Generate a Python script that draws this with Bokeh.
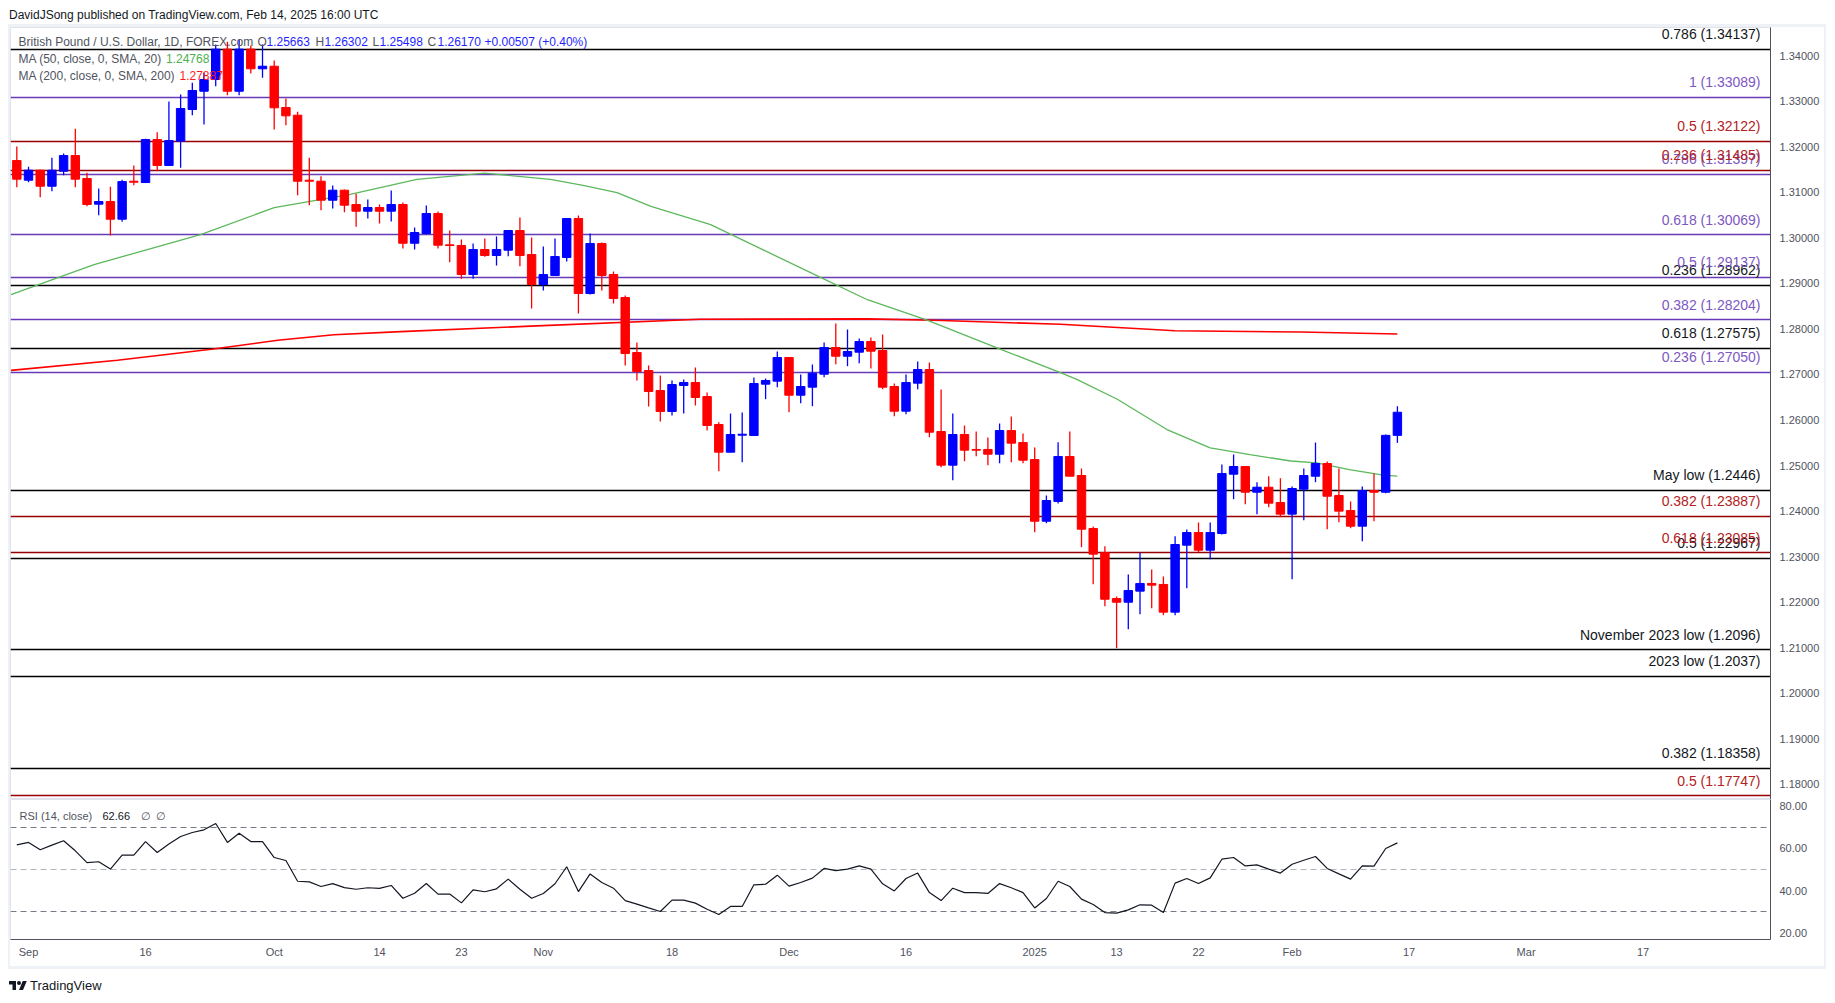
import numpy as np
from bokeh.plotting import figure
from bokeh.models import Range1d, FixedTicker, Label, Div, ColumnDataSource, NumeralTickFormatter
from bokeh.layouts import column
from bokeh.embed import file_html
from bokeh.resources import INLINE
from bokeh.core.properties import value

# ---------------- data ----------------
bar_index = list(range(-1, 118))   # trading-day index, 0 = 2 Sep 2024, 117 = 14 Feb 2025

opens = [1.31695, 1.31263, 1.31483, 1.31131, 1.31460, 1.31805, 1.31300, 1.30737, 1.30795, 1.30407,
         1.31241, 1.31212, 1.32156, 1.31586, 1.32119, 1.32815, 1.33216, 1.33473, 1.34140, 1.33216,
         1.34140, 1.33708, 1.33765, 1.32859, 1.32690, 1.31263, 1.31241, 1.30824, 1.31044, 1.30730,
         1.30583, 1.30664, 1.30583, 1.30730, 1.29880, 1.30093, 1.30532, 1.29844, 1.29830, 1.29193,
         1.29742, 1.29610, 1.29727, 1.30159, 1.29632, 1.28974, 1.29171, 1.29566, 1.30422, 1.28776,
         1.29874, 1.29193, 1.28688, 1.27481, 1.27086, 1.26647, 1.26186, 1.26757, 1.26823, 1.26515,
         1.25901, 1.25293, 1.25666, 1.25659, 1.26786, 1.26852, 1.27371, 1.26544, 1.26720, 1.27005,
         1.27591, 1.27400, 1.27488, 1.27723, 1.27525, 1.26735, 1.26193, 1.26808, 1.27108, 1.25747,
         1.25008, 1.25681, 1.25353, 1.25353, 1.25249, 1.25769, 1.25506, 1.25132, 1.23778, 1.24211,
         1.25198, 1.24781, 1.23618, 1.23085, 1.22081, 1.22000, 1.22243, 1.22412, 1.22390, 1.21782,
         1.23252, 1.23530, 1.23142, 1.23508, 1.24810, 1.24979, 1.24415, 1.24525, 1.24189, 1.23933,
         1.24481, 1.24766, 1.25045, 1.24343, 1.24014, 1.23669, 1.24452, 1.24415, 1.25663]
highs = [1.32003, 1.31557, 1.31490, 1.31755, 1.31849, 1.32391, 1.31425, 1.31081, 1.31118, 1.31272,
         1.31586, 1.32172, 1.32317, 1.32990, 1.33144, 1.33401, 1.33620, 1.34240, 1.34300, 1.34350,
         1.34220, 1.34240, 1.33890, 1.33056, 1.32764, 1.31755, 1.31351, 1.31147, 1.31059, 1.30964,
         1.30839, 1.30730, 1.31037, 1.30774, 1.30225, 1.30708, 1.30576, 1.30159, 1.29961, 1.29874,
         1.29983, 1.30027, 1.30159, 1.30444, 1.30005, 1.29808, 1.29983, 1.30422, 1.30488, 1.30093,
         1.29896, 1.29259, 1.28732, 1.27701, 1.27196, 1.26976, 1.26867, 1.26889, 1.27152, 1.26603,
         1.25952, 1.26142, 1.26164, 1.26932, 1.26910, 1.27503, 1.27371, 1.26998, 1.27218, 1.27701,
         1.28118, 1.27986, 1.27788, 1.27810, 1.27876, 1.26801, 1.26998, 1.27284, 1.27262, 1.26669,
         1.26142, 1.25879, 1.25747, 1.25616, 1.25923, 1.26076, 1.25703, 1.25396, 1.24343, 1.25512,
         1.25747, 1.24935, 1.23662, 1.23230, 1.22125, 1.22610, 1.23085, 1.22720, 1.22566, 1.23450,
         1.23596, 1.23750, 1.23750, 1.25022, 1.25243, 1.24979, 1.24634, 1.24766, 1.24722, 1.24540,
         1.24935, 1.25505, 1.25089, 1.24935, 1.24211, 1.24540, 1.24825, 1.25682, 1.26302]
lows = [1.31109, 1.31219, 1.30890, 1.31022, 1.31373, 1.31109, 1.30692, 1.30495, 1.30049, 1.30349,
        1.31153, 1.31212, 1.31460, 1.31586, 1.31535, 1.32690, 1.32486, 1.33326, 1.33129, 1.33129,
        1.33605, 1.33511, 1.32376, 1.32471, 1.30934, 1.30715, 1.30605, 1.30642, 1.30561, 1.30240,
        1.30422, 1.30313, 1.30356, 1.29764, 1.29742, 1.30071, 1.29764, 1.29463, 1.29098, 1.29098,
        1.29581, 1.29391, 1.29596, 1.29376, 1.28447, 1.28842, 1.29171, 1.29478, 1.28337, 1.28754,
        1.28842, 1.28557, 1.27196, 1.26867, 1.26296, 1.25967, 1.26098, 1.26142, 1.26318, 1.25770,
        1.24876, 1.25293, 1.25073, 1.25659, 1.26457, 1.26720, 1.26171, 1.26369, 1.26303, 1.26940,
        1.27225, 1.27181, 1.27247, 1.27130, 1.26676, 1.26083, 1.26127, 1.26676, 1.25622, 1.24964,
        1.24679, 1.25095, 1.25205, 1.25008, 1.25051, 1.25073, 1.25051, 1.23537, 1.23734, 1.24167,
        1.24766, 1.23208, 1.22396, 1.21913, 1.20991, 1.21408, 1.21738, 1.21869, 1.21716, 1.21716,
        1.22308, 1.23099, 1.22946, 1.23486, 1.24262, 1.24152, 1.23933, 1.24087, 1.23867, 1.22506,
        1.23801, 1.24635, 1.23603, 1.23757, 1.23625, 1.23340, 1.23779, 1.24393, 1.25498]
closes = [1.31286, 1.31483, 1.31131, 1.31483, 1.31805, 1.31286, 1.30730, 1.30795, 1.30407, 1.31234,
          1.31219, 1.32156, 1.31586, 1.32134, 1.32837, 1.33232, 1.33473, 1.34140, 1.33216, 1.34140,
          1.33708, 1.33765, 1.32852, 1.32676, 1.31241, 1.31241, 1.30824, 1.31044, 1.30715, 1.30583,
          1.30664, 1.30583, 1.30730, 1.29880, 1.30115, 1.30532, 1.29837, 1.29830, 1.29193, 1.29742,
          1.29610, 1.29742, 1.30159, 1.29610, 1.28974, 1.29193, 1.29588, 1.30422, 1.28776, 1.29874,
          1.29171, 1.28666, 1.27459, 1.27064, 1.26625, 1.26186, 1.26779, 1.26823, 1.26494, 1.25879,
          1.25293, 1.25681, 1.25688, 1.26801, 1.26867, 1.27371, 1.26544, 1.26735, 1.27027, 1.27591,
          1.27400, 1.27503, 1.27723, 1.27510, 1.26720, 1.26193, 1.26823, 1.27108, 1.25732, 1.25008,
          1.25681, 1.25337, 1.25337, 1.25249, 1.25769, 1.25491, 1.25117, 1.23778, 1.24233, 1.25198,
          1.24766, 1.23603, 1.23055, 1.22066, 1.22000, 1.22258, 1.22412, 1.22375, 1.21782, 1.23267,
          1.23530, 1.23142, 1.23530, 1.24825, 1.24979, 1.24415, 1.24525, 1.24174, 1.23933, 1.24496,
          1.24781, 1.25045, 1.24327, 1.23999, 1.23669, 1.24452, 1.24415, 1.25663, 1.26170]

ma50_index = [-1.5, 5.6, 14.7, 21, 27.5, 33.2, 39, 44.6, 47.4, 50.3, 53.2, 56, 58.3, 67.6, 71.7,
              76.8, 83.1, 88.2, 89.6, 93.1, 97.3, 101, 104.4, 107.9, 110.1, 112.9, 115.8, 117]
ma50_values = [1.2875, 1.2941, 1.3007, 1.3066, 1.3095, 1.3128, 1.3142, 1.3128, 1.3115, 1.3099,
               1.3069, 1.3047, 1.3029, 1.2914, 1.2864, 1.2819, 1.2755, 1.2704, 1.2689, 1.2645,
               1.2579, 1.2539, 1.2524, 1.2510, 1.2506, 1.2491, 1.2479, 1.24768]
ma200_index = [-1.5, 7.6, 15.8, 21.3, 26.1, 31.8, 42.9, 57.4, 71.7, 77.4, 88.2, 98, 108.7, 117]
ma200_values = [1.2709, 1.2731, 1.2756, 1.2775, 1.2787, 1.2794, 1.2806, 1.2821, 1.2822, 1.2819,
                1.2810, 1.2796, 1.2793, 1.27887]

rsi_values = [61.7, 62.9, 59.4, 61.6, 63.7, 58.9, 53.3, 53.7, 50.2, 56.8, 56.8, 63.3, 58.1, 62.1, 65.7,
              67.6, 68.9, 71.9, 62.9, 67.3, 63.3, 63.3, 55.7, 54.3, 44.4, 44.1, 41.9, 43.3, 41.4, 40.6,
              41.3, 41.0, 42.4, 36.3, 38.7, 43.3, 38.3, 38.3, 34.1, 40.3, 39.4, 40.8, 45.4, 40.6, 36.3,
              38.6, 43.2, 51.3, 39.5, 47.9, 43.8, 41.1, 35.2, 33.5, 31.7, 30.0, 35.4, 35.4, 34.0, 31.1,
              28.6, 32.4, 32.4, 42.7, 43.0, 47.3, 42.1, 43.8, 45.9, 50.5, 49.5, 50.2, 51.7, 50.2, 43.2,
              39.8, 45.7, 48.3, 39.0, 35.2, 41.1, 39.0, 39.0, 38.6, 43.3, 41.3, 39.0, 31.7, 36.2, 44.4,
              41.9, 35.9, 33.3, 29.5, 29.2, 30.8, 33.2, 33.0, 29.5, 43.5, 45.7, 43.3, 46.0, 54.9, 55.7,
              51.7, 52.2, 50.2, 48.3, 52.5, 54.4, 56.2, 50.5, 47.9, 45.4, 51.7, 51.6, 60.0, 62.66]

black_levels = [1.34137, 1.28962, 1.27575, 1.22967, 1.18358]
black_labels = ["0.786 (1.34137)", "0.236 (1.28962)", "0.618 (1.27575)", "0.5 (1.22967)", "0.382 (1.18358)"]
purple_levels = [1.33089, 1.31397, 1.30069, 1.29137, 1.28204, 1.27050]
purple_labels = ["1 (1.33089)", "0.786 (1.31397)", "0.618 (1.30069)", "0.5 (1.29137)",
                 "0.382 (1.28204)", "0.236 (1.27050)"]
red_levels = [1.32122, 1.31485, 1.23887, 1.23085, 1.17747]
red_labels = ["0.5 (1.32122)", "0.236 (1.31485)", "0.382 (1.23887)", "0.618 (1.23085)", "0.5 (1.17747)"]
key_levels = [1.2446, 1.2096, 1.2037]
key_labels = ["May low (1.2446)", "November 2023 low (1.2096)", "2023 low (1.2037)"]

price_ticks = [1.18, 1.19, 1.20, 1.21, 1.22, 1.23, 1.24, 1.25, 1.26, 1.27, 1.28, 1.29, 1.30,
               1.31, 1.32, 1.33, 1.34]
rsi_ticks = [20, 40, 60, 80]
rsi_levels_outer = [70, 30]
rsi_levels_mid = [50]
date_tick_pos = [0, 10, 21, 30, 37, 44, 55, 65, 75, 86, 93, 100, 108, 118, 128, 138]
date_tick_labels = ["Sep", "16", "Oct", "14", "23", "Nov", "18", "Dec", "16", "2025", "13", "22",
                    "Feb", "17", "Mar", "17"]

# ---------------- style ----------------
FONT = "Liberation Sans"
UP, DOWN = "#0000ff", "#ff0000"
C_BLACK, C_PURPLE, C_DRED = "#000000", "#673ab7", "#990000"
L_BLACK, L_PURPLE, L_DRED = "#131722", "#7e57c2", "#b22222"
GREY_TXT = "#50535e"
AXIS_COL = "#50535e"
FRAME = "#eef1f6"
X_START, X_END = -1.54, 148.89
PRICE_LO, PRICE_HI = 1.17670, 1.34615
RSI_LO, RSI_HI = 16.67, 83.33
FIG_W = 1814

o = np.array(opens); h = np.array(highs); l = np.array(lows); c = np.array(closes)
src = ColumnDataSource(dict(
    idx=bar_index, open=o, high=h, low=l, close=c,
    top=np.maximum(o, c), bottom=np.minimum(o, c),
    color=np.where(c >= o, UP, DOWN)))

# ---------------- price panel ----------------
p = figure(width=FIG_W, height=772, output_backend="svg", toolbar_location=None,
           x_range=Range1d(X_START, X_END), y_range=Range1d(PRICE_LO, PRICE_HI),
           y_axis_location="right", x_axis_location=None,
           min_border_left=0, min_border_right=54, min_border_top=0, min_border_bottom=0)
p.xgrid.visible = False
p.ygrid.visible = False
p.outline_line_color = "#e0e3eb"
p.background_fill_color = "white"
p.border_fill_color = "white"
ya = p.yaxis[0]
ya.ticker = FixedTicker(ticks=price_ticks, minor_ticks=[])
ya.formatter = NumeralTickFormatter(format="0.00000")
ya.major_tick_in = 0
ya.major_tick_out = 0
ya.minor_tick_in = 0
ya.minor_tick_out = 0
ya.major_label_standoff = 9
ya.axis_line_color = AXIS_COL
ya.major_label_text_font = FONT
ya.major_label_text_font_size = "11px"
ya.major_label_text_color = GREY_TXT

for levels, col in ((purple_levels, C_PURPLE), (red_levels, C_DRED),
                    (black_levels, C_BLACK), (key_levels, C_BLACK)):
    p.hspan(y=levels, line_color=col, line_width=1.3)

p.line(ma200_index, ma200_values, line_color="#ff0000", line_width=1.6)
p.line(ma50_index, ma50_values, line_color="#5cb85c", line_width=1.3)

p.segment(x0="idx", y0="low", x1="idx", y1="high", line_color="color", line_width=1.3, source=src)
p.vbar(x="idx", width=0.72, top="top", bottom="bottom", fill_color="color",
       line_color="color", line_width=1, source=src)

for levels, labels, col in ((black_levels, black_labels, L_BLACK), (purple_levels, purple_labels, L_PURPLE),
                            (red_levels, red_labels, L_DRED), (key_levels, key_labels, L_BLACK)):
    p.text(x=[X_END] * len(levels), y=levels, text=labels, x_offset=-10, y_offset=-15,
           text_align="right", text_baseline="alphabetic", text_color=col,
           text_font=value(FONT), text_font_size="14px")


def seg_text(fig, top, offs_x, offs_y, texts, color, size="12px"):
    fig.text(x=[X_START] * len(texts), y=[top] * len(texts), text=texts,
             x_offset=offs_x, y_offset=offs_y, text_align="left", text_baseline="middle",
             text_color=color, text_font=value(FONT), text_font_size=size)


chg = closes[-1] - closes[-2]
chg_txt = f"{chg:+.5f} ({chg / closes[-2] * 100:+.2f}%)"
seg_text(p, PRICE_HI, [8, 247, 305, 362, 417], [14, 14, 14, 14, 14],
         ["British Pound / U.S. Dollar, 1D, FOREX.com", "O", "H", "L", "C"], GREY_TXT)
seg_text(p, PRICE_HI, [256, 314, 369, 427, 474], [14, 14, 14, 14, 14],
         [f"{opens[-1]:.5f}", f"{highs[-1]:.5f}", f"{lows[-1]:.5f}", f"{closes[-1]:.5f}", chg_txt],
         "#1f1fff")
seg_text(p, PRICE_HI, [8, 8], [31, 48], ["MA (50, close, 0, SMA, 20)", "MA (200, close, 0, SMA, 200)"], GREY_TXT)
seg_text(p, PRICE_HI, [155.5], [31], [f"{ma50_values[-1]:.5f}"], "#4caf50")
seg_text(p, PRICE_HI, [169], [48], [f"{ma200_values[-1]:.5f}"], "#ff1a1a")

last_lbl = Label(x=X_END, y=closes[-1], x_units="data", y_units="data", x_offset=1,
                 text=f"{closes[-1]:.5f}", text_color="white", text_font=FONT,
                 text_font_size="11px", text_font_style="bold", text_baseline="middle",
                 text_align="left", background_fill_color=UP, padding=3)
p.add_layout(last_lbl)

# ---------------- RSI panel ----------------
r = figure(width=FIG_W, height=167, output_backend="svg", toolbar_location=None,
           x_range=p.x_range, y_range=Range1d(RSI_LO, RSI_HI),
           y_axis_location="right", x_axis_location="below",
           min_border_left=0, min_border_right=54, min_border_top=0, min_border_bottom=27)
r.xgrid.visible = False
r.ygrid.visible = False
r.outline_line_color = "#e0e3eb"
r.background_fill_color = "white"
r.border_fill_color = "white"
ry = r.yaxis[0]
ry.ticker = FixedTicker(ticks=rsi_ticks, minor_ticks=[])
ry.formatter = NumeralTickFormatter(format="0.00")
rx = r.xaxis[0]
rx.ticker = FixedTicker(ticks=date_tick_pos, minor_ticks=[])
rx.major_label_overrides = {int(k): v for k, v in zip(date_tick_pos, date_tick_labels)}
for ax, standoff in ((ry, 9), (rx, 6)):
    ax.major_tick_in = 0
    ax.major_tick_out = 0
    ax.minor_tick_in = 0
    ax.minor_tick_out = 0
    ax.major_label_standoff = standoff
    ax.axis_line_color = AXIS_COL
    ax.major_label_text_font = FONT
    ax.major_label_text_font_size = "11px"
    ax.major_label_text_color = GREY_TXT

r.hspan(y=rsi_levels_outer, line_color="#787b86", line_width=1, line_dash="6 4")
r.hspan(y=rsi_levels_mid, line_color="#b2b5be", line_width=1, line_dash="6 4")
r.line(bar_index, rsi_values, line_color="#131722", line_width=1.2)
seg_text(r, RSI_HI, [9, 130, 145], [16, 16, 16], ["RSI (14, close)", "\u2205", "\u2205"], GREY_TXT, "11px")
seg_text(r, RSI_HI, [92], [16], [f"{rsi_values[-1]:.2f}"], "#131722", "11px")

# ---------------- page ----------------
title = Div(text=('<div style="font-family:\'Liberation Sans\';font-size:12px;line-height:14px;'
                  'color:#131722;padding-left:4px;padding-top:3px;white-space:nowrap">'
                  'DavidJSong published on TradingView.com, Feb 14, 2025 16:00 UTC</div>'),
            width=600, height=14)
logo_svg = ('<svg width="18" height="13" viewBox="0 0 36 26" style="vertical-align:middle">'
            '<path d="M14 22H7V11H0V4h14z" fill="#131722"/>'
            '<circle cx="20" cy="8" r="4" fill="#131722"/>'
            '<path d="M28 22h-8l7.5-18h8z" fill="#131722"/></svg>')
logo = Div(text=('<div style="font-family:\'Liberation Sans\';font-size:13px;line-height:22px;'
                 'color:#131722;padding-left:4px;white-space:nowrap">' + logo_svg +
                 '<span style="vertical-align:middle;margin-left:3px">TradingView</span></div>'),
           width=300, height=22)
frame = column(p, r, styles={"border-style": "solid", "border-color": FRAME,
                             "border-width": "3px 2px 3px 2px", "margin-left": "8px"})
layout = column(title, frame, logo)

open("out.html", "w").write(file_html(layout, INLINE))
